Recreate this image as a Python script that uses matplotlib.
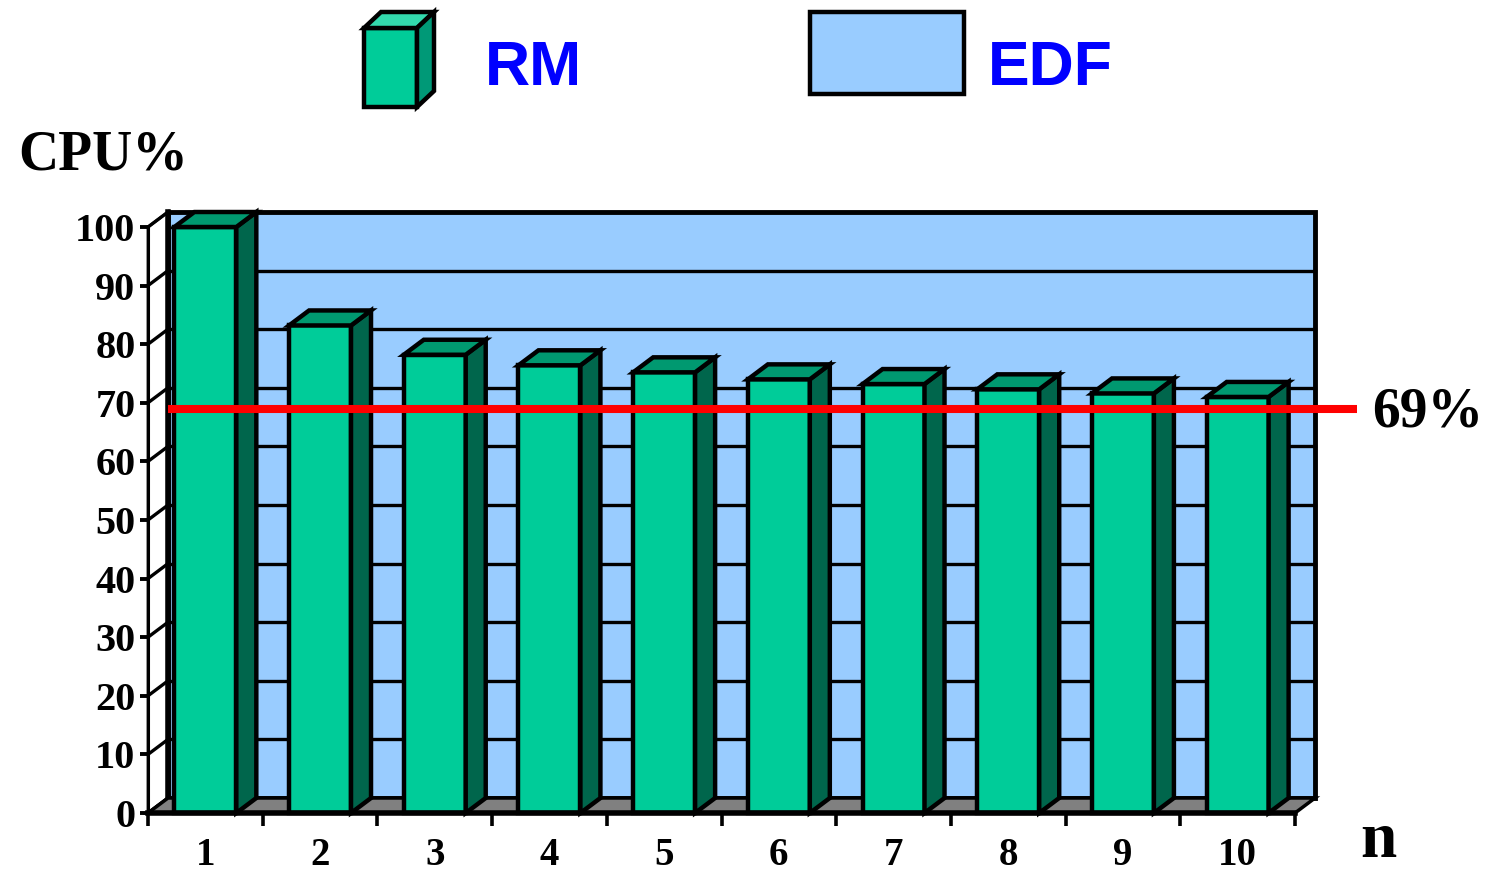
import numpy as np
import matplotlib.pyplot as plt
from matplotlib.patches import Polygon, Rectangle

# data
n_tasks = [1, 2, 3, 4, 5, 6, 7, 8, 9, 10]
rm_cpu = [100, 83.2, 78.2, 76.4, 75.2, 74.0, 73.2, 72.3, 71.6, 71.0]
edf_cpu = 100
bound = 69
y_ticks = list(range(0, 101, 10))

FRONT = '#00CC99'
TOP = '#009970'
SIDE = '#00664C'
WALL = '#99CCFF'
FLOOR = '#808080'
SERIF = ['Liberation Serif', 'DejaVu Serif']
SANS = ['Liberation Sans', 'DejaVu Sans']

W, H = 1485, 874
fig = plt.figure(figsize=(W / 100, H / 100), dpi=100)
ax = fig.add_axes([148 / W, 1 - 813 / H, 1147 / W, 586 / H])
ax.set_xlim(0.5, 10.5)
ax.set_ylim(0, edf_cpu)

# depth of the fake 3d box, in data units (about 20px right, 15px up)
ddx = 20 / (1147 / 10)
ddy = 15 / (586 / 100)
x0, x1 = 0.5, 10.5

# back wall = EDF series (always 100%)
ax.add_patch(Rectangle((x0 + ddx, ddy), x1 - x0, edf_cpu, fc=WALL, ec='black',
                       lw=3.5, clip_on=False, zorder=1))
for v in y_ticks[1:-1]:
    ax.plot([x0 + ddx, x1 + ddx], [v + ddy] * 2, color='black', lw=2.4,
            clip_on=False, zorder=1.5)

# left side wall with its diagonal grid
ax.add_patch(Polygon([(x0, 0), (x0 + ddx, ddy), (x0 + ddx, edf_cpu + ddy), (x0, edf_cpu)],
                     fc='white', ec='black', lw=2, clip_on=False, zorder=1.6))
for v in y_ticks:
    ax.plot([x0, x0 + ddx], [v, v + ddy], color='black', lw=2.4,
            clip_on=False, zorder=1.7)
ax.plot([x0 + ddx] * 2, [ddy, edf_cpu + ddy], color='black', lw=4,
        clip_on=False, zorder=1.7)

# floor
ax.add_patch(Polygon([(x0, 0), (x1, 0), (x1 + ddx, ddy), (x0 + ddx, ddy)],
                     fc=FLOOR, ec='black', lw=2.5, clip_on=False, zorder=1.8))

# RM bars
bw = 0.54
ax.bar(n_tasks, rm_cpu, width=bw, color=FRONT, edgecolor='black', lw=3.2,
       zorder=3, clip_on=False)
for n, h in zip(n_tasks, rm_cpu):
    l, r = n - bw / 2, n + bw / 2
    ax.add_patch(Polygon([(r, 0), (r + ddx, ddy), (r + ddx, h + ddy), (r, h)],
                         fc=SIDE, ec='black', lw=3.2, clip_on=False, zorder=3))
    ax.add_patch(Polygon([(l, h), (r, h), (r + ddx, h + ddy), (l + ddx, h + ddy)],
                         fc=TOP, ec='black', lw=3.2, clip_on=False, zorder=3))

# 69% bound line
ax.plot([x0 + ddx, 11.04], [bound, bound], color='#FF0000', lw=5.8,
        solid_capstyle='butt', clip_on=False, zorder=5)
ax.annotate('69%', xy=(11.17, bound), xycoords='data', xytext=(0, -13),
            textcoords='offset points', ha='left', va='baseline',
            fontsize=40, fontweight='bold', family=SERIF, annotation_clip=False)

# axes
for s in ['top', 'right']:
    ax.spines[s].set_visible(False)
ax.spines['left'].set_linewidth(2.2)
ax.spines['bottom'].set_linewidth(4)
for s in ['left', 'bottom']:
    ax.spines[s].set_zorder(4)
ax.set_facecolor('none')

ax.set_yticks(y_ticks)
ax.set_yticklabels([str(v) for v in y_ticks])
ax.tick_params(axis='y', length=6, width=2.8, pad=3, labelsize=29)
ax.set_xticks(n_tasks)
ax.set_xticklabels([str(n) for n in n_tasks])
ax.set_xticks(np.arange(0.5, 11, 1), minor=True)
ax.tick_params(axis='x', which='major', length=0, pad=17, labelsize=28)
ax.tick_params(axis='x', which='minor', length=9, width=2.6)
for lab in ax.get_xticklabels() + ax.get_yticklabels():
    lab.set_family(SERIF)
    lab.set_fontweight('bold')

fig.text(18 / W, 1 - 170 / H, 'CPU%', ha='left', va='baseline', fontsize=40,
         fontweight='bold', family=SERIF)
fig.text(1360 / W, 1 - 857 / H, 'n', ha='left', va='baseline', fontsize=47,
         fontweight='bold', family=SERIF)

# legend, drawn in pixel space
lax = fig.add_axes([0, 0, 1, 1])
lax.set_xlim(0, W)
lax.set_ylim(H, 0)
lax.axis('off')
lax.add_patch(Rectangle((364, 28), 53, 79, fc=FRONT, ec='black', lw=3.2))
lax.add_patch(Polygon([(364, 28), (417, 28), (434, 12), (381, 12)],
                      fc='#33D9AD', ec='black', lw=3.2))
lax.add_patch(Polygon([(417, 28), (434, 12), (434, 91), (417, 107)],
                      fc='#009977', ec='black', lw=3.2))
lax.text(485, 85, 'RM', ha='left', va='baseline', fontsize=45,
         fontweight='bold', family=SANS, color='#0000FF')
lax.add_patch(Rectangle((810, 12), 154, 82, fc=WALL, ec='black', lw=3.2))
lax.text(988, 85, 'EDF', ha='left', va='baseline', fontsize=45,
         fontweight='bold', family=SANS, color='#0000FF')

fig.savefig('out.png', dpi=100)
